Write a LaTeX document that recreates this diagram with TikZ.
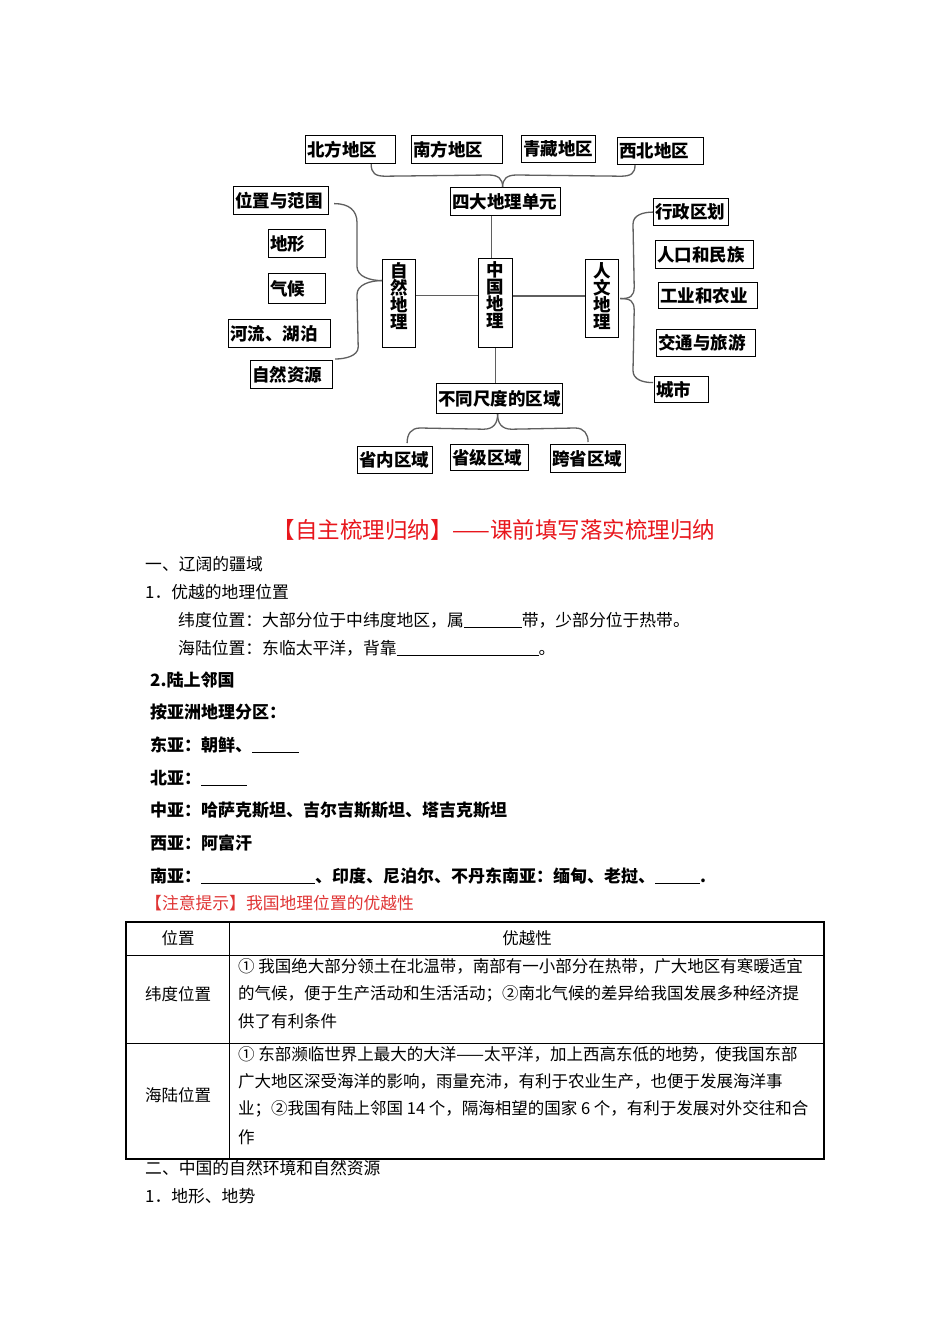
\documentclass[tikz,border=0pt]{standalone}
\usepackage{fontspec}
\newfontfamily\cjk{Noto Sans CJK SC}
\usetikzlibrary{calc}
\definecolor{titlered}{RGB}{232,22,28}
\definecolor{notered}{RGB}{224,52,52}
\definecolor{linegray}{RGB}{95,95,95}
\tikzset{
  box/.style={draw=black, line width=1.2pt, anchor=north west, inner xsep=1.5pt, inner ysep=0pt, align=left, font=\cjk\bfseries\fontsize{17.5}{18}\selectfont},
  vbox/.style={draw=black, line width=1.2pt, anchor=north west, inner xsep=0pt, inner ysep=3pt, align=center, font=\cjk\bfseries\fontsize{17.5}{17}\selectfont},
  conn/.style={draw=linegray, line width=1.3pt},
  txt/.style={anchor=west, inner sep=0pt, font=\cjk\fontsize{16.8}{18}\selectfont},
  ttxt/.style={anchor=west, inner sep=0pt, font=\cjk\fontsize{16.5}{18}\selectfont},
  btxt/.style={anchor=west, inner sep=0pt, font=\cjk\bfseries\fontsize{17}{18}\selectfont},
}
\newcommand{\blank}[1]{\rule[-1.5pt]{#1pt}{0.8pt}}
\begin{document}
\begin{tikzpicture}[x=1pt,y=-1pt]
\fill[white] (0,0) rectangle (950,1344);
\useasboundingbox (0,0) rectangle (950,1344);

% ---------- diagram boxes ----------
\node[box, text width=87pt, minimum height=28pt] (bf) at (305,135) {北方地区};
\node[box, text width=88pt, minimum height=28pt] (nf) at (411,135) {南方地区};
\node[box, text width=71pt, minimum height=27pt] (qz) at (521,135) {青藏地区};
\node[box, text width=83pt, minimum height=27pt] (xb) at (617,137) {西北地区};
\node[box, text width=107pt, minimum height=28pt] (sd) at (450,187) {四大地理单元};

\node[box, text width=92pt, minimum height=28pt] (wz) at (233,186) {位置与范围};
\node[box, text width=54pt, minimum height=28pt] (dx) at (268,229) {地形};
\node[box, text width=54pt, minimum height=30pt] (qh) at (268,273) {气候};
\node[box, text width=99pt, minimum height=28pt] (hl) at (228,319) {河流、湖泊};
\node[box, text width=79pt, minimum height=28pt] (zy) at (250,360) {自然资源};

\node[vbox, minimum width=33pt] (zr) at (382,259) {自\\然\\地\\理\rule[-16pt]{0pt}{0pt}};
\node[vbox, minimum width=34pt] (zg) at (478,258) {中\\国\\地\\理\rule[-17pt]{0pt}{0pt}};
\node[vbox, minimum width=33pt] (rw) at (585,259) {人\\文\\地\\理\rule[-6pt]{0pt}{0pt}};

\node[box, text width=72pt, minimum height=27pt] (xz) at (653,198) {行政区划};
\node[box, text width=95pt, minimum height=28pt] (rk) at (655,240) {人口和民族};
\node[box, text width=96pt, minimum height=26pt] (gy) at (658,282) {工业和农业};
\node[box, text width=96pt, minimum height=27pt] (jt) at (656,329) {交通与旅游};
\node[box, text width=51pt, minimum height=26pt] (cs) at (654,376) {城市};

\node[box, text width=123pt, minimum height=30pt] (bt) at (436,383) {不同尺度的区域};
\node[box, text width=72pt, minimum height=27pt] (sn) at (357,446) {省内区域};
\node[box, text width=75pt, minimum height=26pt] (sj) at (450,444) {省级区域};
\node[box, text width=72pt, minimum height=28pt] (kx) at (550,444) {跨省区域};

% ---------- connectors ----------
% top brace
\coordinate (tbL) at ($(bf.south east)+(-25,0)$);
\coordinate (tbR) at ($(xb.south west)+(18,0)$);
\coordinate (tbT) at ($(sd.north)+(-3,0)$);
\draw[conn] (tbL) .. controls +(0,9) and +(-10,0) .. ($(tbL)+(14,12)$) -- ($(tbT)+(-14,-12)$) .. controls +(10,0) and +(0,-8) .. (tbT);
\draw[conn] (tbT) .. controls +(0,-8) and +(-10,0) .. ($(tbT)+(14,-12)$) -- ($(tbR)+(-14,11)$) .. controls +(10,0) and +(0,8) .. (tbR);

% vertical lines
\coordinate (vtop) at ($(zg.north)+(-4,0)$);
\draw[conn] (vtop) -- (vtop |- sd.south);
\draw[conn] (zg.south) -- (zg.south |- bt.north);

% horizontal lines
\coordinate (h1) at ([yshift=8pt]zr.east);
\draw[conn] (h1) -- (h1 -| zg.west);
\coordinate (h2) at ([yshift=7pt]zg.east);
\draw[conn] (h2) -- (h2 -| rw.west);

% left brace
\coordinate (lbA) at ($(wz.east)+(5,3)$);
\coordinate (lbT) at ([yshift=23pt]zr.west);
\coordinate (lbB) at ($(zy.north east)+(2,-1)$);
\draw[conn] (lbA) .. controls +(15,0) and +(0,-12) .. ($(lbT)+(-25,-58)$) -- ($(lbT)+(-25,-14)$) .. controls +(0,10) and +(-12,0) .. (lbT);
\draw[conn] (lbT) .. controls +(-12,0) and +(0,-10) .. ($(lbT)+(-25,14)$) -- ($(lbB)+(23,-12)$) .. controls +(0,9) and +(10,0) .. (lbB);

% right brace
\coordinate (rbT) at ($(rw.east)+(1,0)$);
\coordinate (rbC) at (xz.west);
\coordinate (rbD) at ($(cs.west)+(-1,-7)$);
\draw[conn] (rbT) .. controls +(10,0) and +(0,10) .. ($(rbT)+(14,-12)$) -- ($(rbC)+(-20,12)$) .. controls +(0,-9) and +(-10,0) .. (rbC);
\draw[conn] (rbT) .. controls +(10,0) and +(0,-10) .. ($(rbT)+(14,12)$) -- ($(rbD)+(-20,-12)$) .. controls +(0,9) and +(-10,0) .. (rbD);

% bottom brace
\coordinate (bbT) at ($(bt.south)+(-2,0)$);
\coordinate (bbL) at ($(sn.north)+(12,-3)$);
\coordinate (bbR) at ($(kx.north)+(0,-2)$);
\draw[conn] (bbT) .. controls +(0,9) and +(10,0) .. ($(bbT)+(-14,15)$) -- ($(bbL)+(13,-15)$) .. controls +(-9,0) and +(0,-9) .. (bbL);
\draw[conn] (bbT) .. controls +(0,9) and +(-10,0) .. ($(bbT)+(14,15)$) -- ($(bbR)+(-13,-14)$) .. controls +(9,0) and +(0,-8) .. (bbR);

% ---------- text section ----------
\node[anchor=center, inner sep=0pt, font=\cjk\fontsize{22.5}{24}\selectfont, text=titlered] (title) at (494,530) {【自主梳理归纳】——课前填写落实梳理归纳};
\node[txt] (s1) at (145,564) {一、辽阔的疆域};
\node[txt] (s2) at (145,592) {1．优越的地理位置};
\node[txt] (s3) at (178,620) {纬度位置：大部分位于中纬度地区，属\blank{58}带，少部分位于热带。};
\node[txt] (s4) at (178,648) {海陆位置：东临太平洋，背靠\blank{142}。};

\node[btxt] (b1) at (150,680) {2.陆上邻国};
\node[btxt] (b2) at (150,712) {按亚洲地理分区：};
\node[btxt] (b3) at (150,745) {东亚：朝鲜、\blank{47}};
\node[btxt] (b4) at (150,778) {北亚：\blank{46}};
\node[btxt] (b5) at (150,810) {中亚：哈萨克斯坦、吉尔吉斯斯坦、塔吉克斯坦};
\node[btxt] (b6) at (150,843) {西亚：阿富汗};
\node[btxt] (b7) at (150,876) {南亚：\blank{114}、印度、尼泊尔、不丹东南亚：缅甸、老挝、\blank{45}.};
\node[txt, text=notered] (note) at (145,903) {【注意提示】我国地理位置的优越性};

% ---------- table ----------
\draw[line width=1pt] (126,955) -- (824,955);
\draw[line width=1pt] (126,1043) -- (824,1043);
\draw[line width=1pt] (229,922) -- (229,1159);
\draw[line width=1.8pt] (126,922) rectangle (824,1159);

\node[ttxt, anchor=center] (th1) at (178,938) {位置};
\node[ttxt, anchor=center] (th2) at (527,938) {优越性};
\node[ttxt, anchor=center] (r1l) at (178,994) {纬度位置};
\node[ttxt, anchor=center] (r2l) at (178,1095) {海陆位置};

\node[ttxt] (r1a) at (238,966) {① 我国绝大部分领土在北温带，南部有一小部分在热带，广大地区有寒暖适宜};
\node[ttxt] (r1b) at (238,994) {的气候，便于生产活动和生活活动；②南北气候的差异给我国发展多种经济提};
\node[ttxt] (r1c) at (238,1021) {供了有利条件};

\node[ttxt] (r2a) at (238,1054) {① 东部濒临世界上最大的大洋——太平洋，加上西高东低的地势，使我国东部};
\node[ttxt] (r2b) at (238,1081) {广大地区深受海洋的影响，雨量充沛，有利于农业生产，也便于发展海洋事};
\node[ttxt] (r2c) at (238,1109) {业；②我国有陆上邻国 14 个，隔海相望的国家 6 个，有利于发展对外交往和合};
\node[ttxt] (r2d) at (238,1137) {作};

\node[txt] (s5) at (145,1168) {二、中国的自然环境和自然资源};
\node[txt] (s6) at (145,1196) {1．地形、地势};
\end{tikzpicture}
\end{document}
